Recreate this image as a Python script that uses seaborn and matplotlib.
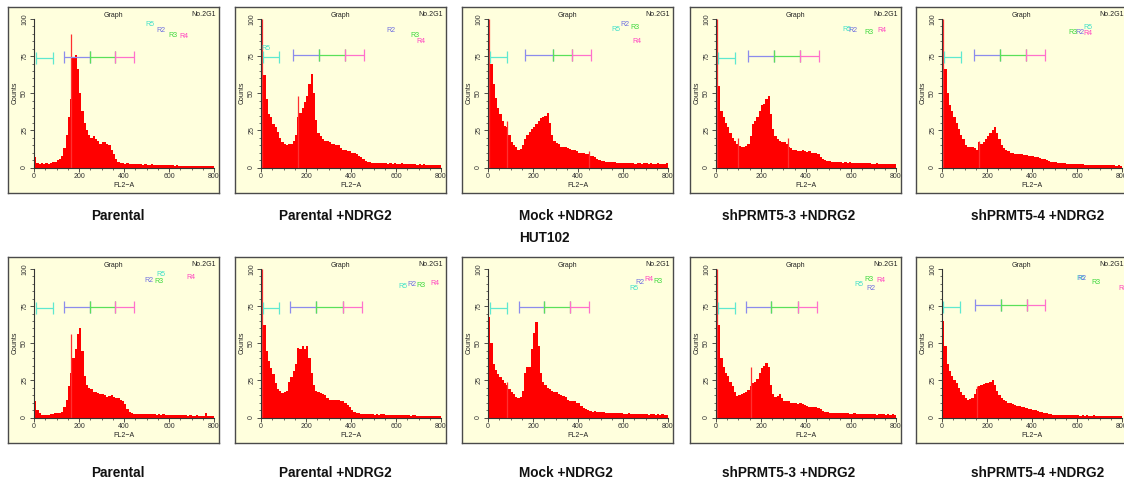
import numpy as np
import pandas as pd
import matplotlib
matplotlib.use("Agg")
import matplotlib.pyplot as plt
from matplotlib.ticker import MultipleLocator
import seaborn as sns

sns.set_theme(style="white")
plt.rcParams['font.family'] = ['Liberation Sans', 'DejaVu Sans']

# ---------------- data ----------------
# histogram bins: 0..800, width 10 (80 bins); FL2-A channel
bin_edges = list(range(0, 810, 10))

tail_p1 = [2.5, 2.8, 2.3, 2.6, 2.2, 2.5, 2.3, 2.4, 2.0, 2.2,
           2.0, 1.8, 2.1, 1.7, 1.9, 1.6, 1.8, 1.7, 1.5, 1.6,
           1.4, 1.5, 1.3, 1.4, 1.2, 1.3, 1.1, 1.2, 1.0, 1.1,
           1.0, 0.9, 1.0, 0.8, 0.9, 0.8, 0.7, 0.8, 0.9, 0.7]

r1_parental = [7, 3, 2.5, 3, 2.5, 3, 2.5, 3, 3.5, 4,
               5, 6, 8, 13, 22, 34, 46, 74, 76, 66,
               50, 38, 30, 25, 22, 20, 21, 19, 18, 16,
               17, 17, 16, 15, 12, 9, 6, 3.5, 3, 3] + tail_p1

r1_parental_ndrg2 = [95, 62, 46, 36, 34, 29, 27, 24, 20, 17,
                     16, 15, 16, 16, 18, 22, 34, 37, 40, 44,
                     48, 56, 63, 50, 32, 23, 21, 19, 18, 18,
                     17, 16, 16, 15, 15, 13, 12, 12, 11, 11,
                     10, 10, 9, 8, 7, 6, 4.5, 4, 3.5, 3.3,
                     3.0, 3.2, 2.8, 3.0, 2.7, 3.1, 2.6, 2.8, 2.5, 2.7,
                     2.6, 2.4, 2.7, 2.3, 2.5, 2.2, 2.4, 2.1, 2.3, 2.0,
                     2.2, 1.9, 2.1, 1.8, 2.0, 1.8, 1.9, 1.7, 1.8, 1.6]

r1_mock_ndrg2 = [95, 70, 56, 47, 40, 36, 31, 28, 27, 22,
                 17, 15, 13.5, 12, 12.5, 15, 19, 22, 24, 26,
                 27, 29, 31, 33, 34, 35, 37, 30, 22, 18,
                 16.5, 16, 14, 14, 13.5, 13, 12.5, 12, 11.5, 11,
                 10, 10, 9.5, 9, 9, 8, 8, 7, 6, 5,
                 4.5, 4.2, 4.0, 3.8, 3.7, 3.5, 3.4, 3.2, 3.0, 3.1,
                 2.9, 2.8, 3.0, 2.7, 2.8, 2.6, 2.9, 2.7, 2.6, 2.8,
                 2.7, 2.5, 2.8, 2.6, 2.5, 2.7, 2.4, 2.6, 2.5, 2.8]

r1_sh3_ndrg2 = [95, 55, 38, 34, 30, 27, 23, 20, 18, 16,
                14.5, 14, 13.5, 14.5, 16, 21, 29, 31, 34, 38,
                42, 43, 46, 48, 36, 26, 21, 19, 18, 17,
                17, 16, 14, 13, 12, 11.5, 11, 11, 11.5, 11,
                10.5, 11, 10, 10, 10, 9, 7, 5.5, 4.8, 4.5,
                4.2, 4.0, 3.9, 3.7, 3.6, 3.5, 3.3, 3.4, 3.2, 3.4,
                3.2, 3.0, 3.3, 2.9, 3.0, 2.8, 3.1, 2.7, 2.8, 2.6,
                2.5, 2.7, 2.4, 2.6, 2.3, 2.5, 2.2, 2.4, 2.2, 2.5]

r1_sh4_ndrg2 = [95, 66, 50, 42, 38, 34, 30, 26, 22, 19,
                15, 14, 13.5, 13.5, 13, 11.5, 17, 16, 17.5, 19,
                21, 23, 25, 27, 23, 19, 15, 13, 12, 11,
                10, 9.5, 9.2, 9, 9, 8.8, 8.5, 8.3, 8, 8,
                7.5, 7, 7, 6.5, 6, 5.5, 5, 4.5, 4, 3.5,
                3.4, 3.2, 3.0, 2.9, 2.8, 2.6, 2.5, 2.4, 2.3, 2.4,
                2.3, 2.1, 2.2, 2.0, 1.9, 2.0, 1.8, 1.9, 1.7, 1.8,
                1.6, 1.7, 1.5, 1.6, 1.5, 1.4, 1.5, 1.3, 1.4, 1.3]

r2_parental = [11, 5, 3, 2, 2, 1.8, 2, 2.2, 2.5, 2.8,
               3, 3.2, 4, 7, 12, 21, 30, 40, 46, 56,
               60, 45, 28, 22, 20, 19, 17.5, 17, 16.5, 16,
               15.5, 15, 14, 14.5, 15, 13.5, 13, 13, 12, 11,
               9, 6, 3.5, 2.8, 2.5, 2.3, 2.6, 2.2, 2.4, 2.3,
               2.2, 2.4, 2.1, 2.3, 2.0, 2.2, 1.9, 2.1, 1.8, 2.0,
               1.7, 1.8, 1.6, 1.7, 1.5, 1.6, 1.4, 1.5, 1.3, 1.4,
               1.3, 1.2, 1.4, 1.2, 1.3, 1.1, 3.0, 1.2, 1.1, 1.0]

r2_parental_ndrg2 = [95, 62, 45, 38, 33, 29, 23, 19, 18, 16.5,
                     17.5, 18, 24, 27, 31, 36, 47, 46, 48, 46,
                     48, 40, 30, 22, 18, 17, 16.5, 16, 15, 13,
                     12, 12, 12, 11.5, 11.5, 11, 10.8, 9.5, 8.5, 7,
                     5, 4, 3, 2.8, 2.6, 2.4, 2.2, 2.4, 2.1, 2.3,
                     2.0, 2.2, 1.9, 2.1, 2.3, 1.8, 2.0, 1.9, 1.7, 1.9,
                     1.6, 1.7, 1.5, 1.6, 1.4, 1.5, 1.3, 1.4, 1.5, 1.3,
                     1.2, 1.3, 1.1, 1.2, 1.3, 1.1, 1.0, 1.2, 1.1, 1.0]

r2_mock_ndrg2 = [68, 50, 36, 32, 29, 27, 25, 23, 22, 19,
                 17, 16, 14, 13, 14, 18, 30, 34, 34, 46,
                 57, 64, 48, 30, 24, 22, 20, 19, 18, 17,
                 17, 16, 15, 14.5, 14, 12, 11, 11, 10.8, 10,
                 9.6, 8, 6.3, 5.5, 5, 4.5, 4, 4.2, 3.8, 4,
                 3.6, 3.4, 3.2, 3.0, 3.1, 2.9, 3.0, 2.8, 2.7, 2.9,
                 2.6, 2.5, 2.7, 2.4, 2.5, 2.3, 2.4, 2.2, 2.3, 2.1,
                 2.2, 2.0, 2.3, 2.1, 2.0, 2.2, 1.9, 2.1, 2.0, 1.8]

r2_sh3_ndrg2 = [95, 62, 40, 34, 30, 28, 24, 21, 17, 14.5,
                15, 16, 16.5, 17.5, 18.5, 21, 23, 24, 26, 30,
                33, 35, 37, 34, 22, 16, 14, 14.5, 16, 13,
                11, 10.8, 10.8, 10, 9.6, 9.8, 9.4, 9.6, 9, 8.5,
                7.5, 7.4, 7.2, 7, 7, 6.5, 5.5, 4.5, 4, 3.5,
                3.2, 3.0, 3.1, 2.9, 3.0, 2.8, 2.9, 2.7, 2.8, 2.6,
                2.5, 2.7, 2.4, 2.6, 2.3, 2.5, 2.2, 2.4, 2.1, 2.3,
                2.2, 2.0, 2.3, 2.1, 2.2, 1.9, 2.1, 2.0, 2.3, 1.8]

r2_sh4_ndrg2 = [65, 48, 36, 31, 28, 25, 23, 20, 17, 15,
                13, 12, 12.5, 13, 16, 19, 21, 22, 22.5, 23,
                23.5, 24, 25, 22, 18, 15, 13, 11.5, 11, 10,
                9.5, 9, 8.5, 8, 7.5, 7.2, 6.8, 6.5, 6, 5.5,
                5, 4.8, 4.5, 4, 3.5, 3, 2.7, 2.4, 2.2, 2,
                1.8, 1.9, 1.7, 1.8, 1.6, 1.7, 1.5, 1.6, 1.4, 1.5,
                1.4, 1.3, 1.5, 1.3, 1.4, 1.2, 1.3, 1.4, 1.2, 1.3,
                1.2, 1.3, 1.1, 1.2, 1.3, 1.1, 1.2, 1.0, 1.1, 1.2]

histograms = [r1_parental, r1_parental_ndrg2, r1_mock_ndrg2, r1_sh3_ndrg2, r1_sh4_ndrg2,
              r2_parental, r2_parental_ndrg2, r2_mock_ndrg2, r2_sh3_ndrg2, r2_sh4_ndrg2]

# single-channel spikes (position, height)
spikes = [
    [(165, 90)],
    [(3, 100), (163, 48)],
    [(3, 100), (84, 31), (448, 11)],
    [(3, 100), (96, 20), (318, 20)],
    [(3, 100), (163, 18)],
    [(165, 56)],
    [(3, 100)],
    [(84, 24)],
    [(3, 100), (157, 34)],
    [(155, 21)],
]

captions = ["Parental", "Parental +NDRG2", "Mock +NDRG2", "shPRMT5-3 +NDRG2", "shPRMT5-4 +NDRG2"]
cell_line = "HUT102"

gate_names = ["R5", "R2", "R3", "R4"]
# gate boundaries per panel: R5 (a,b), R2 start, R2/R3, R3/R4, R4 end ; marker level
gates = [
    (10, 86, 134, 248, 362, 445, 74.5),
    (7, 81, 141, 259, 373, 459, 75.5),
    (10, 84, 165, 288, 373, 457, 75.5),
    (10, 83, 142, 258, 372, 456, 75),
    (7, 86, 144, 259, 373, 458, 75.5),
    (10, 86, 134, 248, 362, 445, 74.5),
    (7, 81, 130, 246, 363, 449, 74.5),
    (7, 86, 136, 248, 364, 449, 74.5),
    (10, 83, 133, 246, 363, 447, 74.5),
    (3, 79, 145, 262, 376, 459, 75.5),
]
# gate label positions per panel: R5, R2, R3, R4
gate_label_pos = [
    [(495, 96), (546, 92.5), (597, 89), (647, 88)],
    [(2, 80), (556, 92), (666, 89), (692, 85)],
    [(549, 93), (590, 96), (633, 94), (642, 85)],
    [(561, 93), (588, 92), (660, 91), (717, 92)],
    [(627, 94), (593, 91), (563, 91), (627, 90)],
    [(543, 96), (492, 92.5), (536, 91.5), (677, 94)],
    [(612, 88), (652, 89.5), (689, 88.6), (754, 90)],
    [(628, 87), (655, 91), (736, 91.5), (697, 92.6)],
    [(615, 89.7), (670, 87), (660, 92.6), (714, 92)],
    [(597, 93.7), (600, 93.7), (662, 91), (785, 87)],
]

# ---------------- styling ----------------
W, H = 1124, 484
BG = "#FFFFDD"
label_colors = {"R5": "#3FE0C8", "R2": "#7070E0", "R3": "#3CD83C", "R4": "#FF40C0"}
line_colors = {"R5": "#5FE8D0", "R2": "#8C8CEC", "R3": "#5AE05A", "R4": "#FF70CC"}

frame_left = [8, 235, 462, 690, 916]
frame_top = [7, 257]
frame_w, frame_h = 211, 186

fig = plt.figure(figsize=(W / 100, H / 100), dpi=100)
fig.patch.set_facecolor("white")


def rect(x, y, w, h):
    return [x / W, 1 - (y + h) / H, w / W, h / H]


centers = [e + 5 for e in bin_edges[:-1]]

for idx, vals in enumerate(histograms):
    row, col = divmod(idx, 5)
    fx, fy = frame_left[col], frame_top[row]
    # frame
    fr = fig.add_axes(rect(fx, fy, frame_w, frame_h))
    fr.set_facecolor(BG)
    fr.set_xticks([]); fr.set_yticks([])
    for s in fr.spines.values():
        s.set_color("#4a4a4a"); s.set_linewidth(1.0)
    fr.text(0.5, 0.955, "Graph", transform=fr.transAxes, ha="center", va="center",
            fontsize=5, color="#222222")
    fr.text(0.985, 0.96, "No.2G1", transform=fr.transAxes, ha="right", va="center",
            fontsize=5, color="#222222")

    # plot area
    ax = fig.add_axes(rect(fx + 26, fy + 12, 180, 148.5))
    ax.set_facecolor("none")
    df = pd.DataFrame({"FL2": centers, "n": vals})
    sns.histplot(data=df, x="FL2", weights="n", bins=bin_edges, element="step",
                 fill=True, color="#FF0000", alpha=1, linewidth=0, ax=ax)
    sx = [p for p, _ in spikes[idx]]
    sh = [h for _, h in spikes[idx]]
    ax.vlines(sx, 0, sh, color="#FF3030", linewidth=0.9)
    ax.set_xlim(0, 800)
    ax.set_ylim(0, 100)
    ax.set_xticks([0, 200, 400, 600, 800])
    ax.set_yticks([0, 25, 50, 75, 100])
    ax.xaxis.set_minor_locator(MultipleLocator(50))
    ax.yaxis.set_minor_locator(MultipleLocator(5))
    ax.tick_params(axis="both", which="major", direction="out", length=3, width=0.6,
                   labelsize=5, pad=1.2, colors="#333333", left=True, bottom=True)
    ax.tick_params(axis="both", which="minor", direction="out", length=1.5, width=0.5,
                   colors="#333333", left=True, bottom=True)
    for lab in ax.get_yticklabels():
        lab.set_rotation(90); lab.set_va("center")
    for s in ["top", "right"]:
        ax.spines[s].set_visible(False)
    for s in ["left", "bottom"]:
        ax.spines[s].set_color("#333333"); ax.spines[s].set_linewidth(0.8)
    ax.set_xlabel("FL2\u2212A", fontsize=5, labelpad=1.5, color="#222222")
    ax.set_ylabel("Counts", fontsize=5, labelpad=2, color="#222222")
    ax.grid(False)

    # gates
    r5a, r5b, r2a, r23, r34, r4b, gy = gates[idx]
    segs = [("R5", r5a, r5b), ("R2", r2a, r23), ("R3", r23, r34), ("R4", r34, r4b)]
    for name, a, b in segs:
        c = line_colors[name]
        yy = gy - 1 if name == "R5" else gy
        ax.hlines(yy, a, b, color=c, linewidth=0.9)
        ax.vlines([a, b], yy - 4, yy + 4, color=c, linewidth=0.9)
    for name, (tx, ty) in zip(gate_names, gate_label_pos[idx]):
        ax.text(tx, ty, name, fontsize=5, color=label_colors[name], ha="left", va="center")

# captions
cap_x = [118, 335, 566, 789, 1038]
for row, ty in enumerate([216, 473]):
    for cx, txt in zip(cap_x, captions):
        fig.text(cx / W, 1 - ty / H, txt, ha="center", va="center", fontsize=9.8,
                 fontweight="bold", color="#111111")
fig.text(544 / W, 1 - 238 / H, cell_line, ha="center", va="center", fontsize=9.8,
         fontweight="bold", color="#111111")

fig.savefig("out.png", dpi=100, facecolor="white")
